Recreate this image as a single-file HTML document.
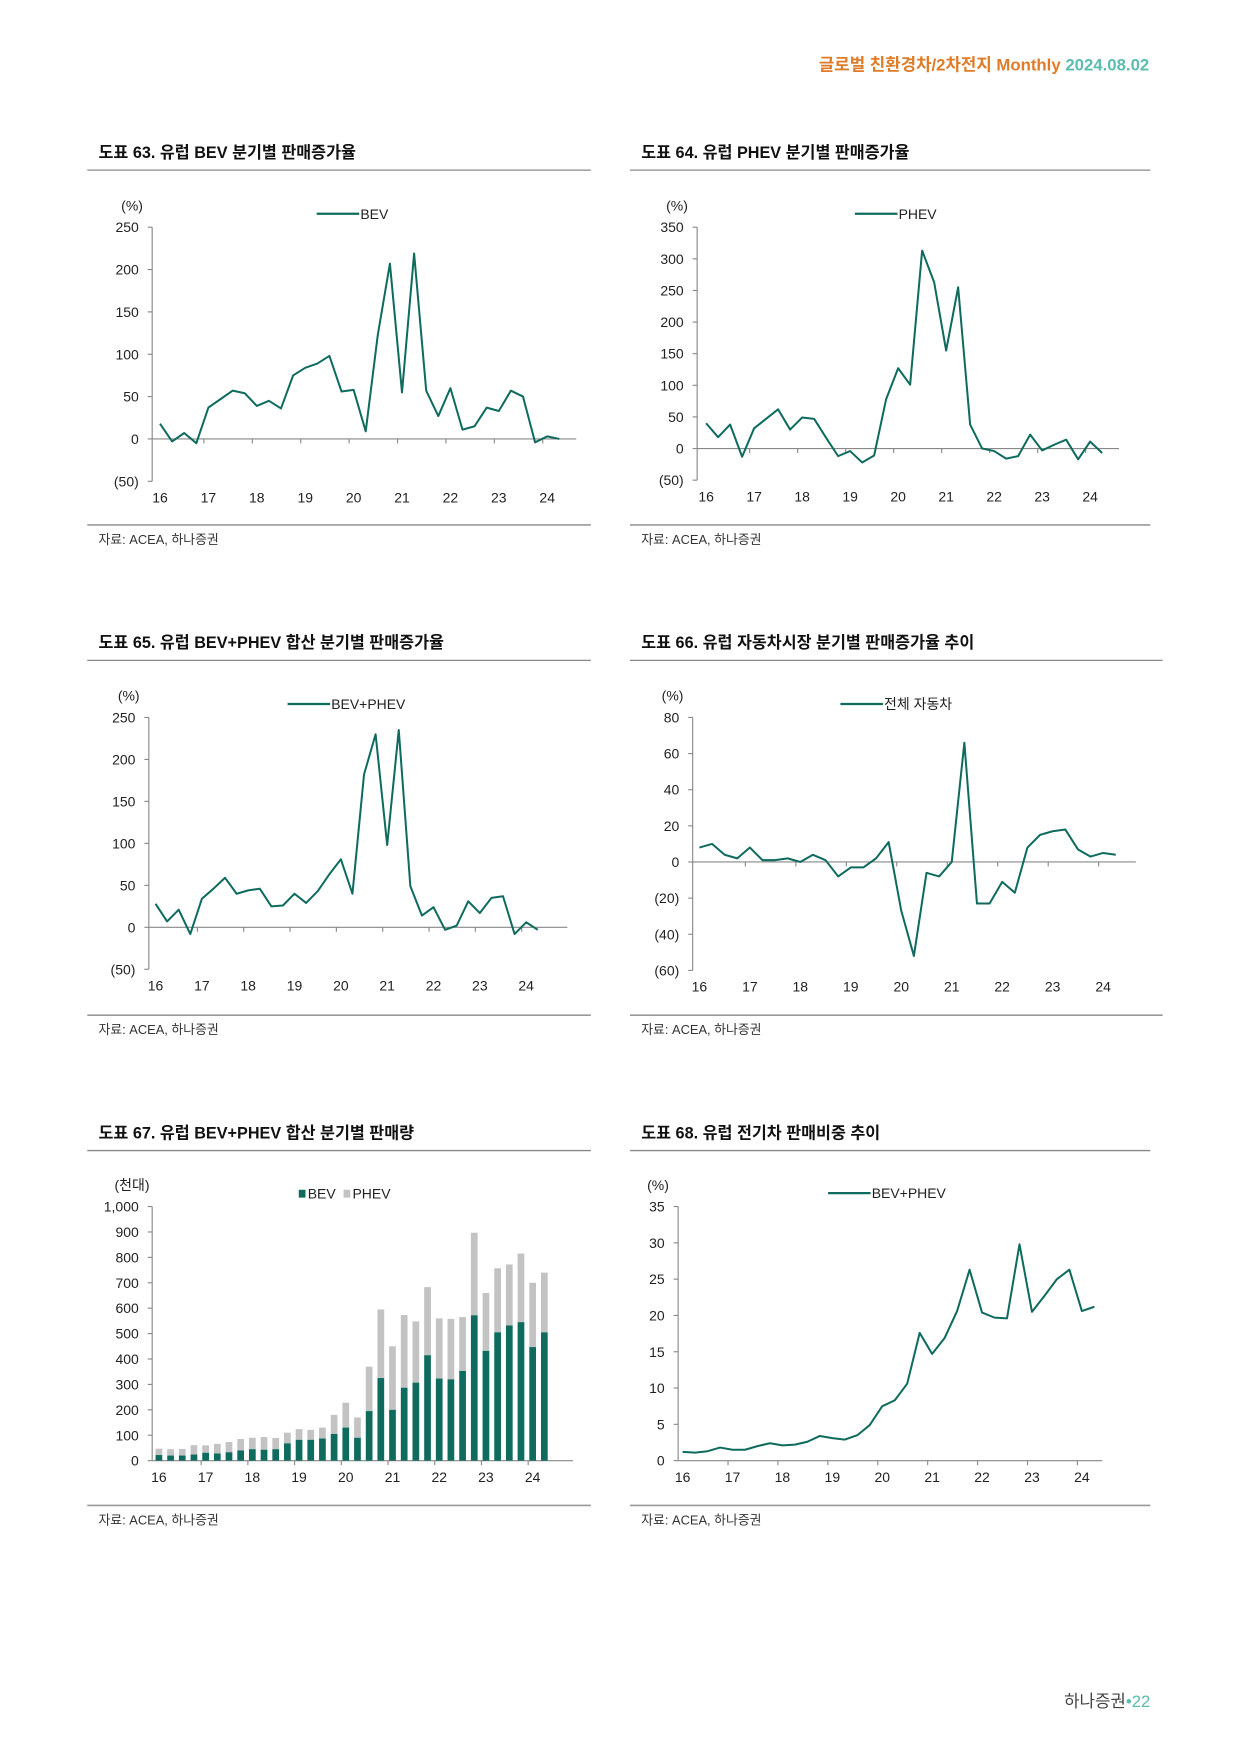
<!DOCTYPE html>
<html><head><meta charset="utf-8">
<style>
html,body{margin:0;padding:0;background:#fff;}
svg{display:block;font-family:"Liberation Sans","Noto Sans CJK KR",sans-serif;}
.t{font-size:14.5px;font-weight:bold;fill:#111;}
.tk{font-size:12.5px;fill:#222;}
.src{font-size:11.5px;fill:#333;}
</style></head>
<body>
<svg id="pg" width="1241" height="1755" viewBox="0 0 1109 1568" preserveAspectRatio="none" xmlns="http://www.w3.org/2000/svg">
<text x="1027" y="63" text-anchor="end" style="font-size:15px;font-weight:bold"><tspan fill="#e07b28">글로벌 친환경차/2차전지 Monthly </tspan><tspan fill="#5bbcb0">2024.08.02</tspan></text>
<text x="1028" y="1525" text-anchor="end" style="font-size:15px"><tspan fill="#444">하나증권</tspan><tspan fill="#5bbcb0">•22</tspan></text>
<g id="charts"></g>
</svg>
<script>
const years = ['16','17','18','19','20','21','22','23','24'];
const bevGrowth = [18,-3,7,-5,37,47,57,54,39,45,36,75,84,89,98,56,58,9,123,207,55,219,57,27,60,11,15,37,33,57,50,-4,3,0];
const phevGrowth = [40,18,38,-13,32,47,62,30,49,47,17,-12,-4,-22,-11,78,127,101,313,263,155,255,38,0,-4,-16,-12,22,-3,6,14,-17,11,-7];
const evGrowth = [28,7,21,-8,34,46,59,40,44,46,25,26,40,29,43,63,81,40,182,230,98,235,49,14,24,-3,2,31,17,35,37,-8,6,-3];
const totalGrowth = [8,10,4,2,8,1,1,2,0,4,1,-8,-3,-3,2,11,-27,-52,-6,-8,0,66,-23,-23,-11,-17,8,15,17,18,7,3,5,4];
const bevSales = [22,20,20,24,31,28,33,40,45,43,45,68,82,82,87,105,130,90,195,325,200,287,307,415,323,320,353,572,432,505,532,545,447,505];
const totalSales = [47,45,46,61,60,66,73,85,90,93,89,110,124,121,130,180,228,170,370,595,450,573,548,683,560,558,565,897,660,757,772,815,700,740];
const evShare = [1.2,1.1,1.3,1.8,1.5,1.5,2.0,2.4,2.1,2.2,2.6,3.4,3.1,2.9,3.5,4.9,7.5,8.3,10.6,17.6,14.7,16.9,20.6,26.3,20.4,19.7,19.6,29.8,20.5,22.7,25.0,26.3,20.6,21.2];
const ticks1 = [250,200,150,100,50,0,-50];
const ticks2 = [350,300,250,200,150,100,50,0,-50];
const ticks4 = [80,60,40,20,0,-20,-40,-60];
const ticks5 = [1000,900,800,700,600,500,400,300,200,100,0];
const ticks6 = [35,30,25,20,15,10,5,0];

const NS='http://www.w3.org/2000/svg';
const root=document.getElementById('charts');
function mk(tag,attrs,parent,txt){const e=document.createElementNS(NS,tag);for(const k in attrs)e.setAttribute(k,attrs[k]);if(txt!==undefined)e.textContent=txt;(parent||root).appendChild(e);return e;}
function fmt(v,comma){let s=comma?Math.abs(v).toLocaleString('en-US'):String(Math.abs(v));return v<0?'('+s+')':s;}
const LINE='#0e6b5e';

function frame(g,ox,oy,w,title){
  const t=mk('text',{x:ox+10,y:oy+6,class:'t'},g,title);
  
  
  const l1=mk('line',{x1:ox,x2:ox+w,y1:oy+17,y2:oy+17,stroke:'#888','stroke-width':1.2},g);
  
  
  const l2=mk('line',{x1:ox,x2:ox+w,y1:oy+334,y2:oy+334,stroke:'#999','stroke-width':1.5},g);
  
  
  const s=mk('text',{x:ox+10,y:oy+351,class:'src'},g,'자료: ACEA, 하나증권');
  
  
}

function axes(g,c){
  const Y=v=>c.yBot-(v-c.min)/(c.max-c.min)*(c.yBot-c.yTop);
  const X=i=>c.x0+i*c.dx/4;
  const ya=mk('line',{x1:c.ax,x2:c.ax,y1:c.yTop,y2:c.yBot,stroke:'#888'},g);
  
  
  c.ticks.forEach(v=>{
    mk('line',{x1:c.ax-4,x2:c.ax,y1:Y(v),y2:Y(v),stroke:'#888'},g);
    const t=mk('text',{x:c.ax-12,y:Y(v)+4.5,class:'tk','text-anchor':'end'},g,fmt(v,c.comma));
    
    
  });
  const u=mk('text',{x:c.ax-18,y:c.yTop-15,class:'tk','text-anchor':'middle'},g,c.unit);
  
  
  const zy=Y(0);
  const xa=mk('line',{x1:c.ax,x2:c.xEnd,y1:zy,y2:zy,stroke:'#888'},g);
  
  
  years.forEach((yr,i)=>{
    const lx=c.x0+i*c.dx;
    if(i>0) mk('line',{x1:lx-4,x2:lx-4,y1:zy,y2:zy+4,stroke:'#888'},g);
    const t=mk('text',{x:lx,y:c.yBot+19,class:'tk','text-anchor':'middle'},g,yr);
    
    
  });
  return {X,Y};
}
function legendLine(g,x,y,label){
  const l=mk('line',{x1:x,x2:x+38,y1:y,y2:y,stroke:LINE,'stroke-width':2},g);
  
  
  const t=mk('text',{x:x+39,y:y+4.5,class:'tk'},g,label);
  
  
}
function lineChart(name,ox,oy,w,title,c,data,leg,lx){
  const g=mk('g',{});
  
  
  frame(g,ox,oy,w,title);
  const {X,Y}=axes(g,c);
  const p=mk('polyline',{points:data.map((v,i)=>X(i)+','+Y(v)).join(' '),fill:'none',stroke:LINE,'stroke-width':1.8,'stroke-linejoin':'round'},g);
  
  
  legendLine(g,lx,c.yTop-12,leg);
}

lineChart('chart-bev-growth',78,135,450,'도표 63. 유럽 BEV 분기별 판매증가율',
 {ax:136,x0:143,dx:43.25,yTop:203,yBot:430,max:250,min:-50,xEnd:515,ticks:ticks1,unit:'(%)'},bevGrowth,'BEV',283);
lineChart('chart-phev-growth',563,135,465,'도표 64. 유럽 PHEV 분기별 판매증가율',
 {ax:623,x0:631,dx:42.9,yTop:203,yBot:429,max:350,min:-50,xEnd:1000,ticks:ticks2,unit:'(%)'},phevGrowth,'PHEV',764);
lineChart('chart-ev-growth',78,573,450,'도표 65. 유럽 BEV+PHEV 합산 분기별 판매증가율',
 {ax:133,x0:139,dx:41.4,yTop:641,yBot:866,max:250,min:-50,xEnd:507,ticks:ticks1,unit:'(%)'},evGrowth,'BEV+PHEV',257);
lineChart('chart-total-growth',563,573,476,'도표 66. 유럽 자동차시장 분기별 판매증가율 추이',
 {ax:619,x0:625,dx:45.1,yTop:641,yBot:867,max:80,min:-60,xEnd:1015,ticks:ticks4,unit:'(%)'},totalGrowth,'전체 자동차',751);
lineChart('chart-ev-share',563,1011,465,'도표 68. 유럽 전기차 판매비중 추이',
 {ax:606,x0:610,dx:44.6,yTop:1078,yBot:1305,max:35,min:0,xEnd:985,ticks:ticks6,unit:'(%)'},evShare,'BEV+PHEV',740);

(function(){
  const g=mk('g',{});
  
  
  frame(g,78,1011,450,'도표 67. 유럽 BEV+PHEV 합산 분기별 판매량');
  const c={ax:136,x0:142,dx:41.75,yTop:1078,yBot:1305,max:1000,min:0,xEnd:512,ticks:ticks5,unit:'(천대)',comma:true};
  const {X,Y}=axes(g,c);
  totalSales.forEach((tot,i)=>{
    const b=bevSales[i];
    const r1=mk('rect',{x:X(i)-3,y:Y(tot),width:6,height:Y(b)-Y(tot),fill:'#c3c3c3'},g);
    
    
    const r2=mk('rect',{x:X(i)-3,y:Y(b),width:6,height:Y(0)-Y(b),fill:LINE},g);
    
    
  });
  const s1=mk('rect',{x:267,y:1063,width:6,height:7,fill:LINE},g);
  
  
  const t1=mk('text',{x:275,y:1071,class:'tk'},g,'BEV');
  
  
  const s2=mk('rect',{x:307,y:1063,width:6,height:7,fill:'#c3c3c3'},g);
  
  
  const t2=mk('text',{x:315,y:1071,class:'tk'},g,'PHEV');
  
  
})();
</script>
</body></html>
